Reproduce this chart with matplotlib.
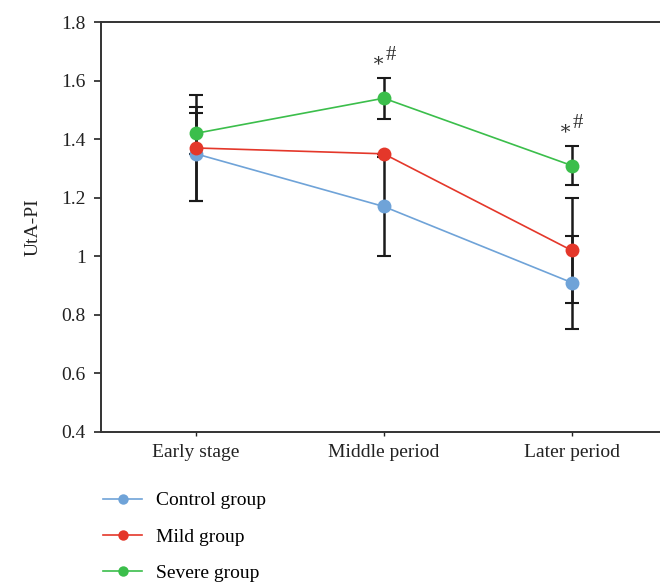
import numpy as np
import matplotlib
matplotlib.use('Agg')
import matplotlib.pyplot as plt

plt.rcParams['font.family'] = ['Liberation Serif', 'DejaVu Serif']

stages = ['Early stage', 'Middle period', 'Later period']
control = [1.35, 1.17, 0.91]
control_err = [0.16, 0.17, 0.16]
mild = [1.37, 1.35, 1.02]
mild_err = [0.18, 0.0, 0.18]
severe = [1.42, 1.54, 1.31]
severe_err = [0.07, 0.07, 0.067]

groups = [
    ('Control group', control, control_err, '#6fa3d8'),
    ('Mild group', mild, mild_err, '#e4372a'),
    ('Severe group', severe, severe_err, '#3bbe4b'),
]

fig = plt.figure(figsize=(6.6, 5.82), dpi=100)
ax = fig.add_axes([0.153, 0.258, 0.847, 0.704])
x = np.arange(len(stages))

for name, vals, err, col in groups:
    ax.errorbar(x, vals, yerr=err, fmt='none', ecolor='#1a1a1a',
                elinewidth=1.8, capsize=5, capthick=1.5, zorder=2)
for name, vals, err, col in groups:
    ax.plot(x, vals, '-', color=col, lw=1.2, marker='o', markersize=10,
            markeredgewidth=0, label=name, zorder=3)

# significance marks over the severe group
for i in [1, 2]:
    top = severe[i] + severe_err[i]
    ax.text(x[i] - 0.03, top + 0.03, '∗', ha='center', va='bottom',
            fontsize=14, color='#333333')
    ax.text(x[i] + 0.035, top + 0.045, '#', ha='center', va='bottom',
            fontsize=15, color='#333333')

ax.set_xlim(-0.505, 2.47)
ax.set_ylim(0.4, 1.8)
ax.set_yticks([0.4, 0.6, 0.8, 1.0, 1.2, 1.4, 1.6, 1.8])
ax.set_yticklabels(['0.4', '0.6', '0.8', '1', '1.2', '1.4', '1.6', '1.8'])
ax.set_xticks(x)
ax.set_xticklabels(stages)
ax.tick_params(axis='y', direction='out', length=5, width=1.2, labelsize=14,
               pad=6, colors='#222222')
ax.tick_params(axis='x', direction='out', length=3, width=1, labelsize=14,
               pad=6, colors='#222222')
for s in ['left', 'bottom', 'top']:
    ax.spines[s].set_linewidth(1.4)
    ax.spines[s].set_color('#333333')
ax.spines['right'].set_visible(False)
ax.set_ylabel('UtA-PI', fontsize=14, labelpad=14, color='#222222')

fig.legend(loc='upper left', bbox_to_anchor=(0.13, 0.185), frameon=False,
           fontsize=14, labelspacing=0.95, handlelength=2.0, handletextpad=0.7,
           markerscale=0.75)

fig.savefig('out.png', dpi=100)
